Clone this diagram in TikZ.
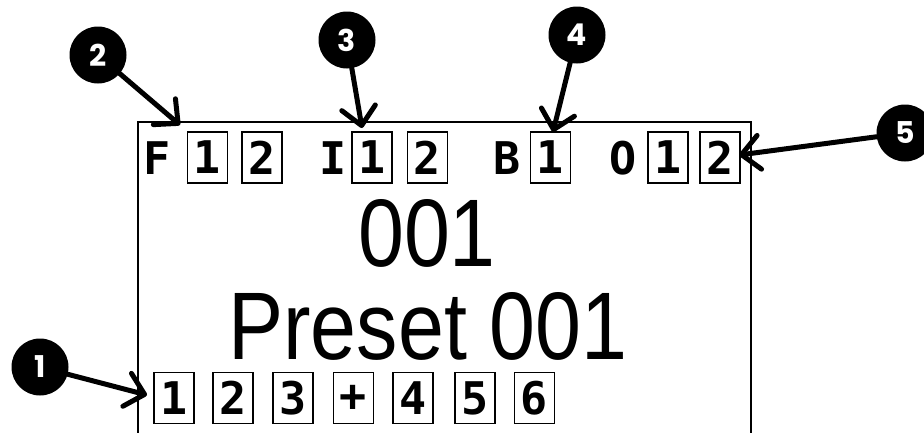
\documentclass[tikz,border=0pt]{standalone}
\usepackage{fontspec}
\usetikzlibrary{arrows.meta}
\newfontfamily\lcdfont{DejaVu Sans Mono}
\newfontfamily\bigfont{Liberation Sans}[FakeStretch=0.86]
\newfontfamily\callfont{Poppins}
\tikzset{
  lcdbox/.style={draw, line width=1.8pt, minimum width=40pt, minimum height=51pt, inner sep=0pt,
    font=\lcdfont\bfseries\fontsize{45}{45}\selectfont},
  lcdletter/.style={inner sep=0pt, font=\lcdfont\bfseries\fontsize{45}{45}\selectfont},
  bigtext/.style={inner sep=0pt, anchor=base, font=\bigfont\fontsize{96}{96}\selectfont},
  callout/.style={circle, fill=black, minimum size=57pt, inner sep=0pt, text=white,
    font=\callfont\bfseries\fontsize{30}{30}\selectfont},
  callarrow/.style={line width=5pt, line cap=round, -{Straight Barb[length=18pt,width=34pt,line width=5pt,round]}}
}
\begin{document}
\begin{tikzpicture}[x=1pt,y=-1pt]
\useasboundingbox (0,0) rectangle (924,432);
% display frame
\draw[line width=2pt] (138,445) -- (138,122) -- (751,122) -- (751,445);
% top row
\node[lcdletter] (F) at (157,158) {F};
\node[lcdbox] (F1) at (207.5,157.5) {1};
\node[lcdbox] (F2) at (262,157.5) {2};
\node[lcdletter] (I) at (333,158) {I};
\node[lcdbox] (I1) at (372,157.5) {1};
\node[lcdbox] (I2) at (427.5,157.5) {2};
\node[lcdletter] (B) at (507,158) {B};
\node[lcdbox] (B1) at (550.5,157.5) {1};
\node[lcdletter] (O) at (623,158) {O};
\node[lcdbox] (O1) at (668,157.5) {1};
\node[lcdbox] (O2) at (720,157.5) {2};
% big text
\node[bigtext] (num) at (427,266) {001};
\node[bigtext] (name) at (428,359) {Preset 001};
% bottom row
\node[lcdbox] (b1) at (174,398) {1};
\node[lcdbox] (b2) at (233,398) {2};
\node[lcdbox] (b3) at (293,398) {3};
\node[lcdbox] (b4) at (353.5,398) {+};
\node[lcdbox] (b5) at (413,398) {4};
\node[lcdbox] (b6) at (475,398) {5};
\node[lcdbox] (b7) at (534.5,398) {6};
% callouts
\node[callout] (c1) at (40,367) {1};
\node[callout] (c2) at (98,55) {2};
\node[callout] (c3) at (347,40) {3};
\node[callout] (c4) at (577,35) {4};
\node[callout] (c5) at (905,133) {5};
\coordinate (t1) at (147,395);
\coordinate (t2) at (180,125);
\coordinate (t3) at (362,128);
\coordinate (t4) at (553,132);
\coordinate (t5) at (739,155);
\draw[callarrow] (c1) -- (t1);
\draw[callarrow] (c2) -- (t2);
\draw[callarrow] (c3) -- (t3);
\draw[callarrow] (c4) -- (t4);
\draw[callarrow] (c5) -- (t5);
\end{tikzpicture}
\end{document}
